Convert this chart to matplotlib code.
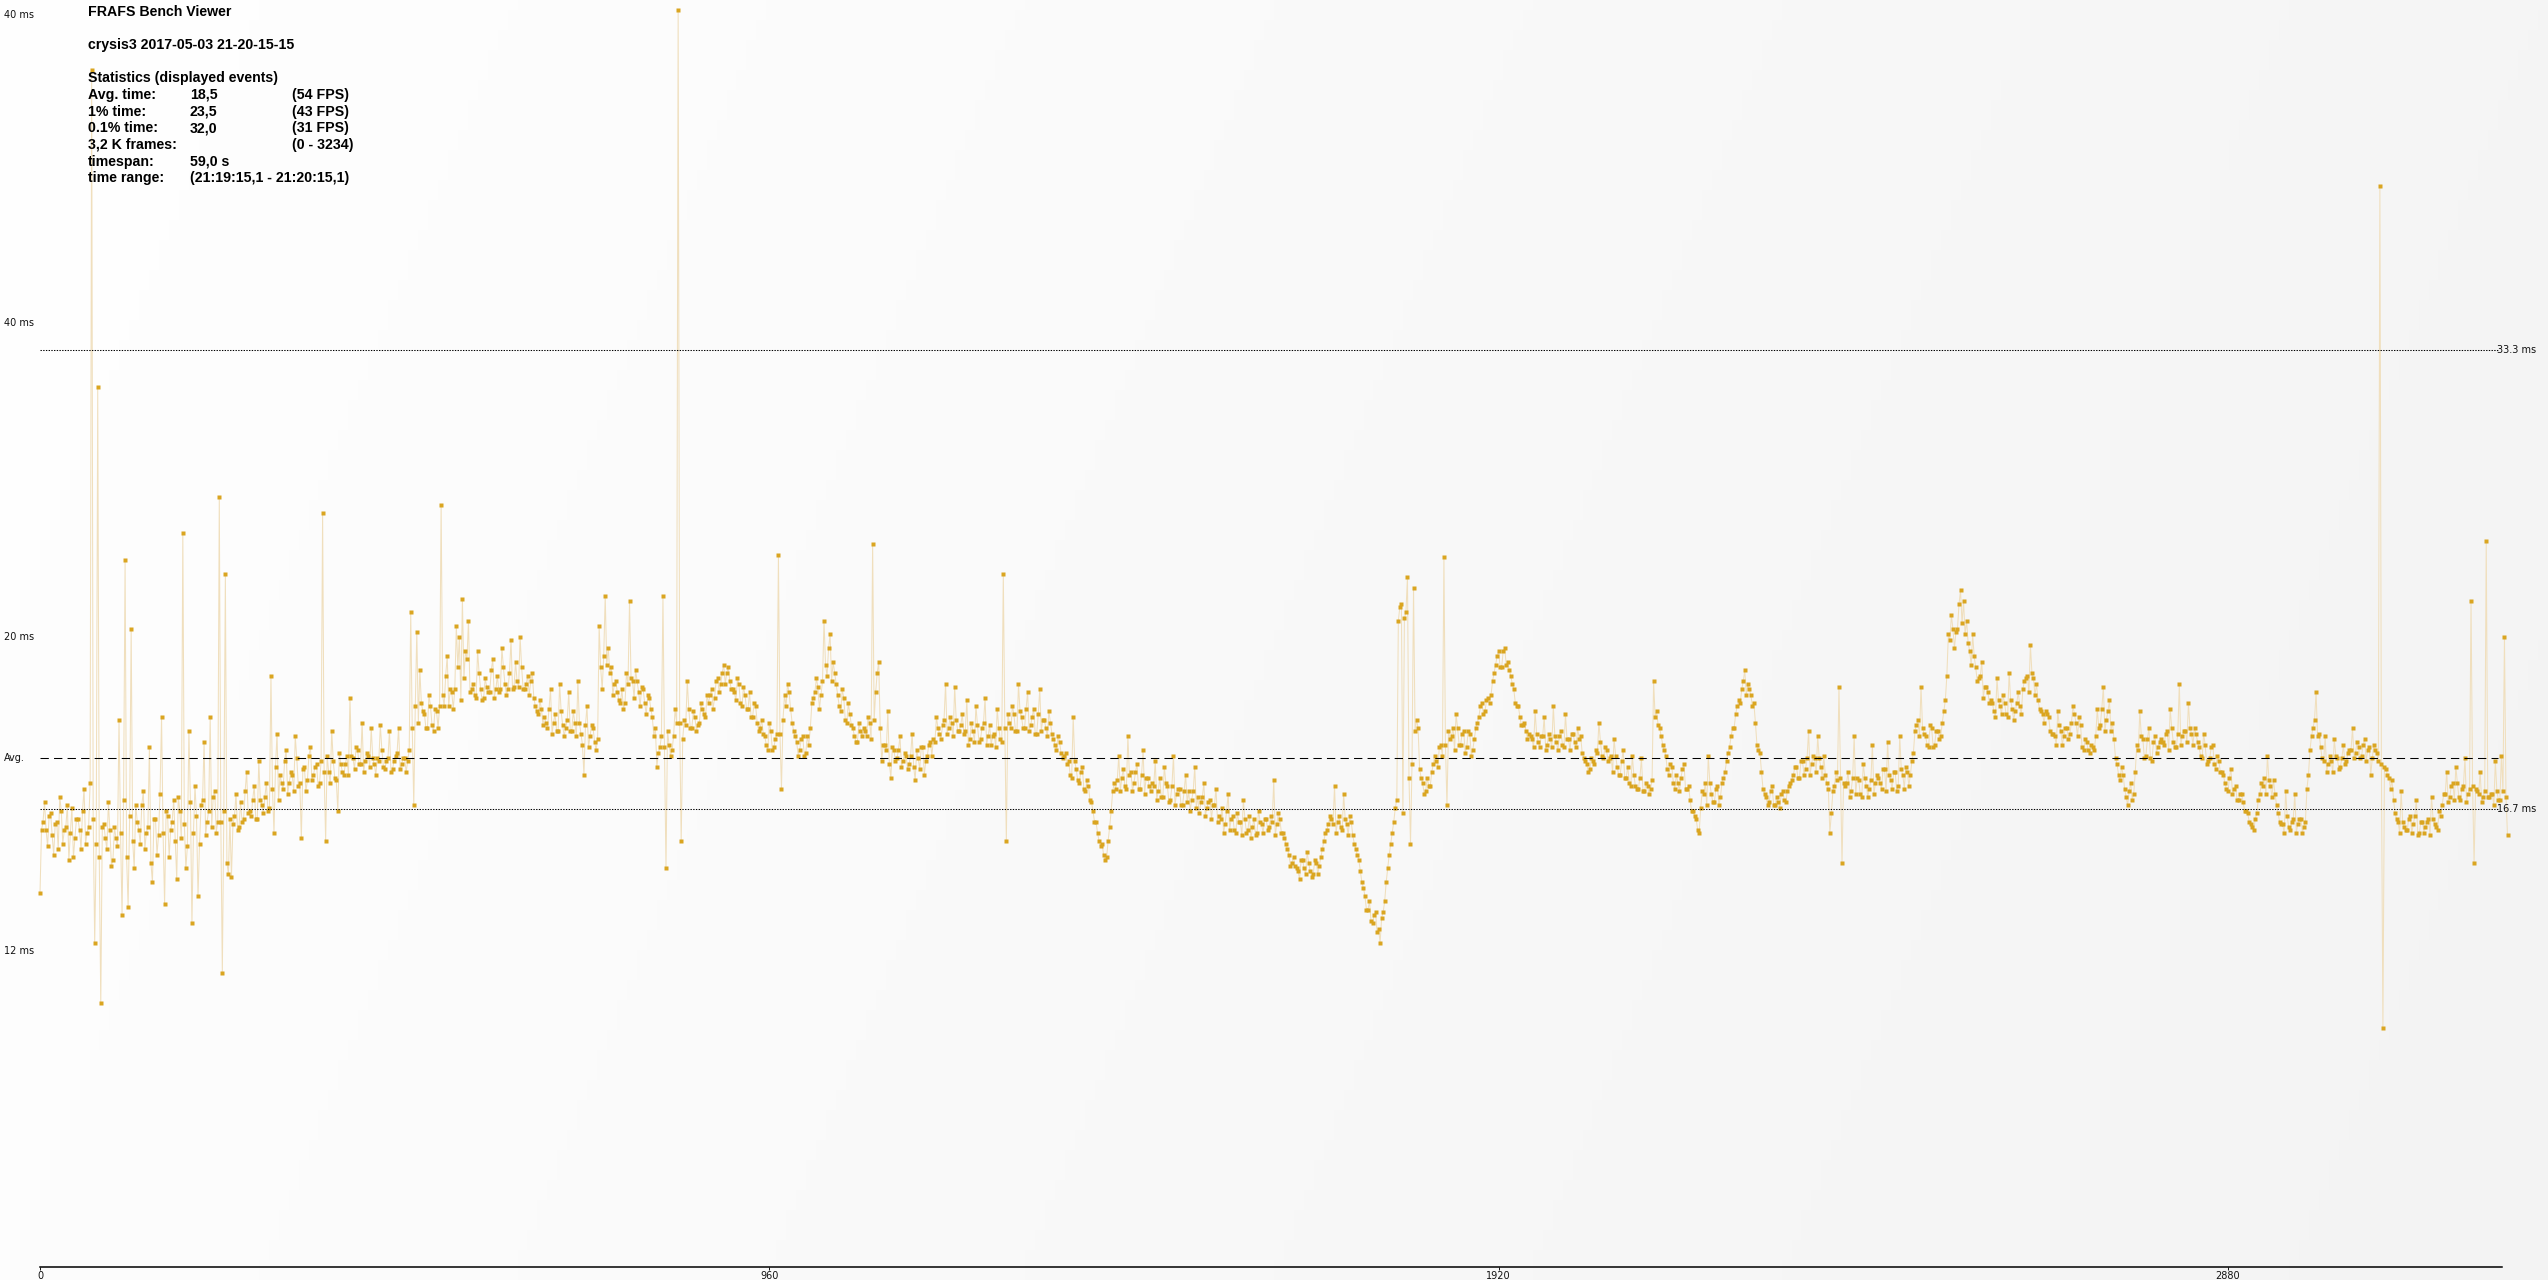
import numpy as np
import matplotlib
matplotlib.use("Agg")
import matplotlib.pyplot as plt
from matplotlib.transforms import blended_transform_factory

# ---------------- data: frame time in ms ----------------
# "a" series: frames start + 4k ; "b" series: frames start + 2 + 4k
FRAME_STEP = 4
B_OFFSET = 2

part1_start = 0
part1_a = [13.6, 16.2, 15.9, 16.4, 15.7, 16.1, 15.2, 16.6, 15.9, 16.8, 15.8, 14.9, 16.3, 15.9, 16.6, 15.4, 16.0,
           43.5, 11.8, 32.0, 9.6,
           16.1, 15.2, 15.9, 14.8, 15.6,
           19.9, 12.8, 25.7, 13.1, 23.2, 14.5,
           16.2, 15.4, 17.3, 15.8, 18.9, 14.0, 16.3, 15.7, 20.0, 13.2, 16.4, 15.9, 17.0, 14.1, 16.6,
           26.7, 14.5, 19.5, 12.5, 17.5, 13.5, 16.8, 19.1, 16.2, 20.0, 17.1, 15.8,
           28.0, 10.7, 25.2, 14.3,
           14.2, 16.4, 15.9, 16.9, 16.3, 18.0, 16.6, 17.0, 16.3, 18.4, 16.8, 17.1, 16.6,
           21.5, 15.8, 19.4,
           17.9, 17.4, 18.8, 17.6, 17.9, 19.3, 17.5, 15.6, 18.2, 17.7, 18.9, 17.9, 18.3, 17.6,
           27.4, 15.5,
           18.0, 19.5, 17.8, 16.6, 18.3, 17.9, 18.6,
           20.7, 18.5, 18.9, 18.3, 19.8, 18.4, 18.6, 19.6, 18.3, 18.5, 19.7, 18.2, 18.4, 19.5, 18.1, 18.6,
           19.6, 18.3, 18.5, 18.4,
           23.8, 16.8, 23.1, 21.7,
           20.2, 19.6, 20.8, 19.7, 20.3, 19.6,
           27.7, 20.4, 22.2, 21.0]
part1_b = [15.9, 16.9, 15.3, 16.5, 15.0, 16.2, 17.1, 15.4, 16.0, 14.8, 16.7, 15.6, 16.3, 15.2, 17.4, 15.8, 17.6,
           16.3, 15.4, 14.9, 16.0,
           15.6, 16.9, 14.6, 16.0, 15.3,
           15.8, 17.0, 14.9, 16.4, 15.5, 16.8,
           15.9, 16.8, 15.2, 16.0, 14.7, 16.3, 15.0, 17.2, 15.8, 16.6, 14.9, 16.2, 15.5, 17.1, 15.6,
           16.1, 15.3, 16.9, 15.8, 16.4, 15.4, 17.0, 15.7, 16.6, 16.0, 17.3, 16.2,
           16.2, 16.6, 14.7, 16.3,
           16.1, 17.2, 16.0, 16.2, 17.3, 16.5, 16.4, 17.5, 16.3, 17.0, 16.5, 17.6, 16.7,
           17.4, 18.2, 17.0,
           17.6, 18.4, 17.2, 18.0, 17.3, 18.5, 17.6, 18.1, 17.3, 18.6, 17.7, 18.2, 17.5, 18.4,
           18.0, 18.6,
           17.6, 18.4, 17.7, 18.7, 18.0, 18.3, 17.9,
           18.6, 18.1, 18.8, 18.3, 18.0, 18.7, 18.2, 18.5, 17.9, 18.4, 18.8, 18.1, 18.5, 18.0, 18.4, 18.7,
           18.1, 18.5, 18.0, 18.8,
           19.6, 20.4, 19.8, 20.5,
           20.1, 19.6, 20.4, 19.5, 20.2, 20.4,
           20.8, 21.5, 20.4, 20.9]

part2_start = 544
part2_a = [20.3, 23.3, 22.9, 24.3, 22.4, 23.5,
           21.0, 20.8, 22.4, 21.0, 20.7, 21.1, 20.9, 22.1, 21.0, 20.9, 22.5, 21.2, 21.0, 22.8, 21.1, 21.3,
           22.9, 21.0, 21.2, 20.8, 21.6,
           20.4, 20.1, 20.3,
           20.0, 19.6, 21.0, 19.8, 19.5, 21.2, 19.7, 19.6, 20.9, 19.5, 19.8, 21.3, 19.4, 17.9, 20.4, 19.3, 19.6,
           18.8, 23.3, 21.0, 24.4,
           22.5, 21.8, 21.2, 20.9, 20.5, 20.3, 21.6,
           24.2, 21.3, 21.7, 20.9, 21.1, 20.5, 20.8, 20.3,
           19.3, 18.2, 18.9, 24.4, 14.5, 19.0, 18.8, 20.3,
           45.7, 15.5,
           19.9, 21.3, 19.6, 20.2, 19.5, 19.8, 20.3, 20.0,
           20.5, 21.0, 20.7, 21.4, 21.2, 21.9, 21.6, 21.3,
           21.0, 20.6, 21.2, 20.4, 20.8, 20.3, 20.0, 20.5, 19.8, 19.6,
           19.4, 19.0, 19.8, 18.8, 19.2,
           25.9, 17.4,
           20.8, 21.2, 20.3,
           19.5, 19.1, 18.8, 19.3, 18.7, 19.0,
           20.5, 20.9, 21.1, 20.8,
           23.5, 21.5, 23.0, 22.0,
           21.2, 20.4, 21.0, 19.9, 20.5,
           19.7, 19.3, 19.1, 19.5]
part2_b = [21.0, 21.8, 20.6, 21.4, 22.1, 20.9,
           21.2, 20.7, 21.6, 20.6, 21.4, 20.9, 21.7, 20.7, 21.5, 21.0, 21.8, 20.8, 21.6, 21.0, 22.0, 21.1,
           21.8, 21.0, 21.5, 21.3, 20.7,
           20.2, 20.6, 19.7,
           19.8, 20.3, 19.4, 20.1, 19.5, 20.2, 19.3, 19.9, 19.5, 20.2, 19.3, 19.8, 19.0, 19.7, 18.9, 19.7, 19.1,
           19.2, 21.8, 22.2, 21.9,
           21.6, 20.8, 21.3, 20.6, 21.0, 20.5, 21.2,
           21.4, 20.7, 21.3, 20.4, 21.0, 20.1, 20.7, 20.0,
           19.6, 18.7, 19.3, 18.9, 19.5, 18.6, 19.3, 19.8,
           19.8, 19.2,
           19.7, 20.3, 19.6, 20.0, 19.7, 20.5, 20.1, 20.8,
           20.8, 20.3, 21.3, 20.9, 21.6, 21.2, 21.8, 21.0,
           20.9, 21.4, 20.5, 21.1, 20.3, 20.9, 20.0, 20.4, 19.5, 19.9,
           19.3, 18.8, 19.5, 18.9, 19.4,
           19.4, 19.9,
           20.4, 20.9, 19.8,
           19.3, 18.6, 19.2, 18.6, 19.3, 19.6,
           20.7, 21.4, 20.3, 21.3,
           21.9, 22.5, 21.3, 21.6,
           20.8, 20.2, 20.7, 19.8, 20.1,
           19.6, 19.1, 19.8, 19.3]

part3_start = 1084
part3_a = [19.6, 19.3, 19.8,
           26.3, 20.9, 22.0, 18.4,
           19.0, 20.2, 17.8, 18.8, 18.5, 19.3, 18.4, 18.6, 18.3, 19.4, 17.7, 18.5, 18.9, 17.9, 18.6, 19.1,
           19.2, 20.0, 19.4, 19.7, 21.2, 19.6, 19.8, 21.1, 19.5, 19.7,
           19.4, 20.6, 19.2, 19.5, 20.4, 19.1, 19.6, 20.7, 19.3, 19.0, 19.4, 20.3, 19.2,
           25.2, 15.5,
           19.8, 20.4, 19.5, 21.2, 20.0, 19.6, 20.9, 19.7, 20.3, 19.4, 21.0, 19.9, 19.6, 20.2,
           19.4, 19.0, 19.3, 18.7, 18.6,
           18.3, 17.9, 20.0, 18.1, 17.6, 18.2, 17.3, 17.5,
           16.9, 16.2, 15.8, 15.3, 15.0, 14.9,
           16.0, 17.3,
           17.4, 18.6, 17.8, 17.5, 19.3, 18.0, 17.6, 18.3, 17.4, 18.8, 17.8, 17.5,
           17.6, 18.4, 17.3, 17.1, 18.2, 17.5, 17.0, 18.6, 17.2, 17.4, 16.8, 17.9, 17.3, 17.0, 18.2, 17.1,
           16.9, 17.6, 16.7, 17.0, 16.8, 17.4,
           16.4, 16.7, 16.1, 17.2, 16.3, 15.9, 16.5, 16.2, 17.0, 15.8, 16.4, 16.0, 15.7, 16.6, 16.1, 16.3, 15.9]
part3_b = [19.5, 20.0, 19.2,
           19.9, 21.6, 19.6, 19.0,
           18.8, 18.3, 18.9, 18.4, 18.8, 18.2, 18.7, 18.1, 18.6, 18.2, 18.8, 18.1, 18.9, 18.4, 19.0, 18.6,
           19.1, 19.6, 19.2, 19.9, 19.4, 20.0, 19.3, 19.9, 19.5, 20.1,
           19.5, 19.0, 19.8, 19.1, 19.7, 19.2, 19.8, 19.0, 19.7, 19.3, 18.9, 19.6, 19.1,
           19.6, 20.1,
           19.6, 20.1, 19.5, 20.2, 19.6, 20.3, 19.5, 20.0, 19.4, 20.1, 19.5, 19.9, 19.3, 19.8,
           19.2, 18.8, 19.1, 18.5, 18.7,
           18.4, 17.8, 18.4, 17.7, 18.0, 17.4, 17.7, 17.0,
           16.6, 16.2, 15.5, 15.4, 14.8, 15.5,
           16.6, 17.6,
           17.7, 17.3, 18.1, 17.4, 17.9, 17.3, 18.0, 17.4, 17.9, 17.2, 17.8, 17.3,
           17.5, 17.0, 17.8, 17.1, 17.6, 16.9, 17.5, 16.8, 17.4, 16.8, 17.3, 16.9, 16.6, 17.3, 16.7, 16.5,
           17.1, 16.4, 16.9, 16.3, 16.8, 16.2,
           16.3, 15.8, 16.6, 15.9, 16.4, 15.8, 16.2, 15.7, 16.3, 15.9, 15.6, 16.3, 15.8, 16.2, 15.8, 16.3, 16.0]

part4_start = 1620
part4_a = [16.4, 17.7, 16.1, 16.3, 15.8,
           15.4, 15.0, 14.7,
           14.6, 14.4, 14.8, 14.5, 15.1, 14.4, 14.3, 14.7, 14.6,
           15.2, 15.8, 16.1,
           16.3, 17.5, 16.2, 16.0, 17.2, 16.1, 16.4,
           15.7, 15.2, 14.8,
           14.0, 13.5, 13.0, 12.6, 12.8, 12.2, 11.8, 12.9,
           14.0, 15.0, 15.8,
           16.7, 23.5, 24.1, 23.6, 25.1, 15.4, 24.7, 19.9,
           18.1, 17.6, 17.3, 17.5, 18.0,
           18.6, 18.2, 19.0,
           25.8, 16.8,
           19.2, 19.6, 20.1, 19.0, 19.4, 18.7, 19.5, 18.6, 19.2,
           19.8, 20.4, 20.1, 20.6, 20.5,
           21.3, 21.9, 22.4, 21.8, 22.5, 22.0,
           21.5, 21.0, 20.4, 20.0, 19.7, 19.5,
           19.4, 19.2, 20.2, 19.1, 19.3, 20.0, 19.0, 19.2, 20.4, 19.1, 19.3, 19.0, 20.1, 19.2, 19.4, 19.1,
           19.6, 19.3,
           18.5, 18.3, 18.1, 18.4,
           18.8, 19.8, 18.6, 18.9,
           18.4, 18.6, 19.2, 18.2, 17.9, 18.8, 17.8, 17.6, 18.6, 17.5, 17.4, 18.5, 17.3, 17.5, 17.4,
           21.3, 20.2, 19.6,
           19.0, 18.6, 17.9, 18.2, 17.4, 17.6]
part4_b = [16.2, 15.7, 16.5, 15.8, 15.6,
           15.2, 14.6, 14.9,
           14.5, 14.1, 14.8, 14.3, 14.7, 14.2, 14.8, 14.3, 14.9,
           15.5, 15.9, 16.4,
           16.1, 15.8, 16.4, 15.9, 16.3, 15.7, 16.2,
           15.4, 15.0, 14.4,
           13.8, 13.0, 13.3, 12.5, 12.9, 12.3, 12.7, 13.3,
           14.5, 15.4, 16.2,
           17.0, 24.0, 16.5, 23.8, 17.8, 18.3, 19.5, 19.6,
           17.8, 17.2, 17.8, 17.5, 18.3,
           18.4, 18.9, 18.6,
           19.0, 19.5,
           19.3, 18.8, 19.6, 19.0, 19.5, 18.9, 19.4, 18.8, 19.6,
           20.0, 20.5, 20.2, 20.7, 20.8,
           21.6, 22.2, 21.8, 22.4, 21.9, 21.7,
           21.2, 20.5, 20.4, 19.7, 19.8, 19.2,
           19.3, 18.9, 19.4, 18.9, 19.3, 18.8, 19.4, 18.9, 19.3, 18.8, 19.5, 18.9, 19.2, 18.8, 19.4, 18.9,
           19.2, 18.7,
           18.4, 18.0, 18.5, 18.3,
           18.7, 19.1, 18.5, 18.8,
           18.5, 18.0, 18.6, 17.9, 18.4, 17.8, 18.2, 17.5, 17.9, 17.4, 17.8, 17.3, 17.6, 17.2, 17.7,
           20.0, 19.7, 19.3,
           18.8, 18.1, 18.3, 17.6, 17.9, 17.3]

part5_start = 2160
part5_a = [17.8, 18.3, 17.4, 17.0,
           16.6, 16.3, 15.8,
           17.3, 17.6, 18.6, 17.2, 16.9, 17.5, 17.1, 17.8,
           18.4, 18.9, 19.6, 20.1, 20.6, 21.0, 21.7, 21.2, 20.8, 20.5,
           19.0, 18.7,
           17.4, 17.1, 16.9, 17.5, 16.8, 16.9, 17.2, 17.0, 17.3,
           17.6, 17.9, 18.2, 17.8, 18.4, 18.1, 19.5, 18.3, 18.5, 19.3, 18.2, 18.6,
           17.6, 15.8, 17.3, 18.0,
           21.1, 14.7,
           17.5, 18.0, 17.3, 19.3, 17.8, 17.2, 18.3, 17.5, 17.4, 19.0, 17.6,
           17.8, 17.4, 18.1, 19.1, 17.7, 18.0, 17.3, 19.3, 17.9, 18.2, 17.5, 18.4,
           19.5, 19.9, 21.1,
           19.4, 19.0, 19.7, 18.9, 19.5, 19.2,
           19.8, 20.6,
           23.0, 23.7, 22.5, 23.2, 24.6, 24.2,
           23.5, 22.4, 23.0, 21.8, 21.4, 22.0, 21.1, 20.9,
           20.6, 20.2, 21.4, 20.4, 20.8, 20.1, 21.6, 20.3, 20.2, 20.9, 20.1,
           21.3, 21.5, 22.6, 21.4, 21.2,
           20.3, 20.1, 20.2, 20.0,
           19.4, 19.3, 20.2, 19.5, 19.3, 19.6, 19.4,
           20.4, 19.8, 20.0, 18.9, 19.2, 18.8]
part5_b = [18.1, 17.4, 17.5, 16.6,
           16.4, 15.9, 16.7,
           17.2, 16.8, 17.6, 16.9, 17.4, 16.8, 17.6, 18.0,
           18.7, 19.3, 19.6, 20.4, 20.5, 21.3, 20.8, 21.0, 20.4, 19.8,
           18.8, 18.0,
           17.2, 16.8, 17.3, 16.8, 17.1, 16.7, 17.3, 16.9, 17.5,
           17.7, 18.2, 17.8, 18.4, 17.9, 18.5, 17.9, 18.6, 18.0, 18.5, 17.8, 17.9,
           17.4, 16.5, 17.5, 17.7,
           17.8, 17.6,
           17.6, 17.1, 17.8, 17.2, 17.7, 17.1, 17.8, 17.1, 17.7, 17.2, 17.9,
           17.6, 18.1, 17.3, 17.9, 17.4, 18.0, 17.5, 18.1, 17.4, 18.0, 17.9, 18.7,
           19.7, 19.3, 19.6,
           19.3, 18.9, 19.6, 19.0, 19.5, 19.3,
           20.2, 21.5,
           22.8, 23.2, 23.1, 24.1, 23.4, 23.0,
           22.7, 21.9, 22.2, 21.3, 21.5, 20.7, 21.1, 20.5,
           20.5, 20.0, 20.6, 20.1, 20.5, 20.0, 20.6, 19.9, 20.5, 20.4, 21.0,
           21.4, 20.9, 21.6, 20.8, 20.6,
           20.2, 19.8, 20.1, 19.5,
           19.4, 19.0, 19.7, 19.0, 19.6, 19.2, 19.8,
           20.1, 19.3, 19.7, 18.8, 19.1, 18.7]

part6_start = 2700
part6_a = [19.0, 18.8,
           20.3, 19.7, 21.1, 19.9, 20.6, 19.8,
           18.5, 17.9, 18.2, 17.4, 16.8, 17.6, 17.2,
           19.0, 20.2, 19.2, 18.6, 19.6, 18.4, 19.3, 18.9,
           19.2, 19.0, 19.5, 20.3, 19.1, 18.9, 21.2, 19.3, 19.5, 20.5, 19.4, 19.6,
           19.1, 18.6, 19.4, 18.3, 18.5, 19.0, 18.1, 18.4,
           18.0, 17.6, 17.3, 18.1, 17.4, 17.0, 17.2, 16.9, 16.6,
           16.2, 16.0, 16.3, 17.0,
           17.6, 17.8, 18.6, 17.5, 17.7, 16.8,
           16.2, 16.1, 17.3, 16.0, 16.2, 17.2, 16.1, 16.3, 16.0, 17.4,
           18.8, 19.6, 20.9, 19.4,
           18.5, 19.3, 18.3, 18.4, 19.2, 18.5, 18.2, 19.0, 18.4,
           18.8, 19.6, 18.7, 18.9, 18.6, 19.2, 18.8, 17.9, 19.0, 18.7,
           39.3, 8.7,
           18.1, 17.8, 17.7,
           16.5, 16.2, 17.3, 16.0, 15.9, 16.4, 16.1, 17.0, 15.8, 16.2, 16.0, 16.3, 17.1, 16.1, 15.9, 16.4,
           17.2, 18.0, 17.1, 17.6, 18.2, 17.1, 17.4, 18.5, 17.2,
           24.2, 14.7,
           17.3, 18.0, 17.1,
           26.4,
           17.1, 17.2, 18.4, 17.0,
           18.6, 22.9, 15.7]
part6_b = [18.9, 19.3,
           19.6, 20.3, 19.5, 20.2, 19.5, 19.2,
           18.3, 17.7, 17.9, 17.1, 17.3, 17.0, 18.0,
           18.8, 19.3, 18.5, 19.2, 18.5, 19.1, 18.7, 19.1,
           19.1, 19.4, 18.8, 19.6, 18.9, 19.4, 19.0, 19.5, 19.1, 19.6, 19.0, 19.4,
           18.9, 18.5, 19.0, 18.4, 18.9, 18.3, 18.6, 18.0,
           17.9, 17.4, 17.8, 17.2, 17.5, 17.0, 17.2, 16.6, 16.5,
           16.1, 15.9, 16.5, 17.2,
           17.5, 17.2, 17.7, 17.1, 17.2, 16.5,
           16.1, 15.8, 16.4, 15.9, 16.3, 15.8, 16.3, 15.8, 16.2, 17.9,
           19.3, 19.9, 19.3, 18.9,
           18.4, 18.0, 18.6, 18.0, 18.6, 18.1, 18.5, 18.3, 18.7,
           18.8, 18.5, 19.1, 18.5, 19.0, 18.4, 18.9, 18.5, 18.8, 18.4,
           18.3, 18.2,
           17.9, 17.4, 17.0,
           16.3, 15.8, 16.2, 15.9, 16.3, 15.8, 16.4, 15.7, 16.2, 15.8, 16.2, 15.7, 16.3, 16.0, 16.6, 16.8,
           17.2, 16.9, 17.5, 17.0, 17.6, 17.0, 17.5, 16.9, 17.4,
           17.5, 17.4,
           17.2, 16.9, 17.3,
           17.1,
           17.2, 16.8, 17.3, 17.0,
           17.3, 17.1]

avg_ms = 18.5
ref_values = [1000 / 30, 1000 / 60]
ref_labels = ["33.3 ms", "16.7 ms"]
ylabel_pos = [45.5, 34.3, 22.9, 11.5]
ylabel_text = ["40 ms", "40 ms", "20 ms", "12 ms"]
xticks = [0, 960, 1920, 2880]

title = "FRAFS Bench Viewer"
subtitle = "crysis3 2017-05-03 21-20-15-15"
stat_labels = ["Statistics (displayed events)", "Avg. time:", "1% time:", "0.1% time:",
               "3,2 K frames:", "timespan:", "time range:"]
stat_values = ["", "18,5", "23,5", "32,0", "", "59,0 s", "(21:19:15,1 - 21:20:15,1)"]
stat_fps = ["", "(54 FPS)", "(43 FPS)", "(31 FPS)", "(0 - 3234)", "", ""]

# ---------------- figure ----------------
W, H = 2548, 1280
fig = plt.figure(figsize=(W / 100, H / 100), dpi=100)

# subtle background gradient
bg = fig.add_axes([0, 0, 1, 1], zorder=0)
gx = np.linspace(0, 1, 256)[None, :]
gy = np.linspace(0, 1, 128)[:, None]
grad = (255 - 10 * gx - 2 * gy) / 255.0
bg.imshow(np.dstack([grad, grad, grad]), extent=[0, 1, 0, 1], aspect="auto")
bg.axis("off")

px_per_frame = 0.7597
px_per_ms = 27.52
left_px, right_px, axis_y_px = 40, 2502, 1267.4
ax = fig.add_axes([left_px / W, (H - axis_y_px) / H, (right_px - left_px) / W, axis_y_px / H], zorder=1)
ax.patch.set_alpha(0)
ax.set_xlim(0, (right_px - left_px) / px_per_frame)
ax.set_ylim(0, axis_y_px / px_per_ms)

parts = [(part1_start, part1_a, part1_b), (part2_start, part2_a, part2_b), (part3_start, part3_a, part3_b),
         (part4_start, part4_a, part4_b), (part5_start, part5_a, part5_b), (part6_start, part6_a, part6_b)]
fr, vals = [], []
for s, a, b in parts:
    fr.append(s + FRAME_STEP * np.arange(len(a)))
    vals.append(np.asarray(a, float))
    fr.append(s + B_OFFSET + FRAME_STEP * np.arange(len(b)))
    vals.append(np.asarray(b, float))
frames = np.concatenate(fr)
values = np.concatenate(vals)
order = np.argsort(frames, kind="stable")
frames, values = frames[order], values[order]

ax.plot(frames, values, color="#F0DFBD", lw=0.75, zorder=2, clip_on=False)
ax.plot(frames, values, ls="none", marker="s", ms=2.4, mfc="#DAA520", mec="none", zorder=3, clip_on=False)

line_end = (2498 - left_px) / (right_px - left_px)
for v in ref_values:
    ax.axhline(v, xmin=0, xmax=line_end, color="black", lw=0.75, ls=(0, (1.3, 1.3)), zorder=4)
ax.axhline(avg_ms, xmin=0, xmax=line_end, color="black", lw=0.75, ls=(0, (8, 5)), zorder=4)

trans = blended_transform_factory(fig.transFigure, ax.transData)
for v, lab in zip(ref_values, ref_labels):
    ax.text(2497 / W, v, lab, transform=trans, ha="left", va="center", fontsize=7, color="#111111", zorder=5)
for v, lab in zip(ylabel_pos, ylabel_text):
    ax.text(4 / W, v, lab, transform=trans, ha="left", va="center", fontsize=7, color="#111111")
ax.text(4 / W, avg_ms, "Avg.", transform=trans, ha="left", va="center", fontsize=7, color="#111111")

for s in ["left", "right", "top"]:
    ax.spines[s].set_visible(False)
ax.spines["bottom"].set_linewidth(1.1)
ax.spines["bottom"].set_color("black")
ax.set_yticks([])
ax.set_xticks(xticks)
ax.set_xticklabels([str(t) for t in xticks], fontsize=7)
ax.tick_params(axis="x", direction="out", length=2, width=0.7, pad=0.5, colors="#111111")

# header text
tfont = dict(family="Liberation Sans", weight="bold", fontsize=10.2, color="black", va="center", ha="left")
fig.text(88 / W, 1 - 12 / H, title, **tfont)
fig.text(88 / W, 1 - 45 / H, subtitle, **tfont)
for i, (a, b, c) in enumerate(zip(stat_labels, stat_values, stat_fps)):
    y = 1 - (78.3 + 16.67 * i) / H
    fig.text(88 / W, y, a, **tfont)
    if b:
        fig.text(190 / W, y, b, **tfont)
    if c:
        fig.text(292 / W, y, c, **tfont)

fig.savefig("out.png", dpi=100)
